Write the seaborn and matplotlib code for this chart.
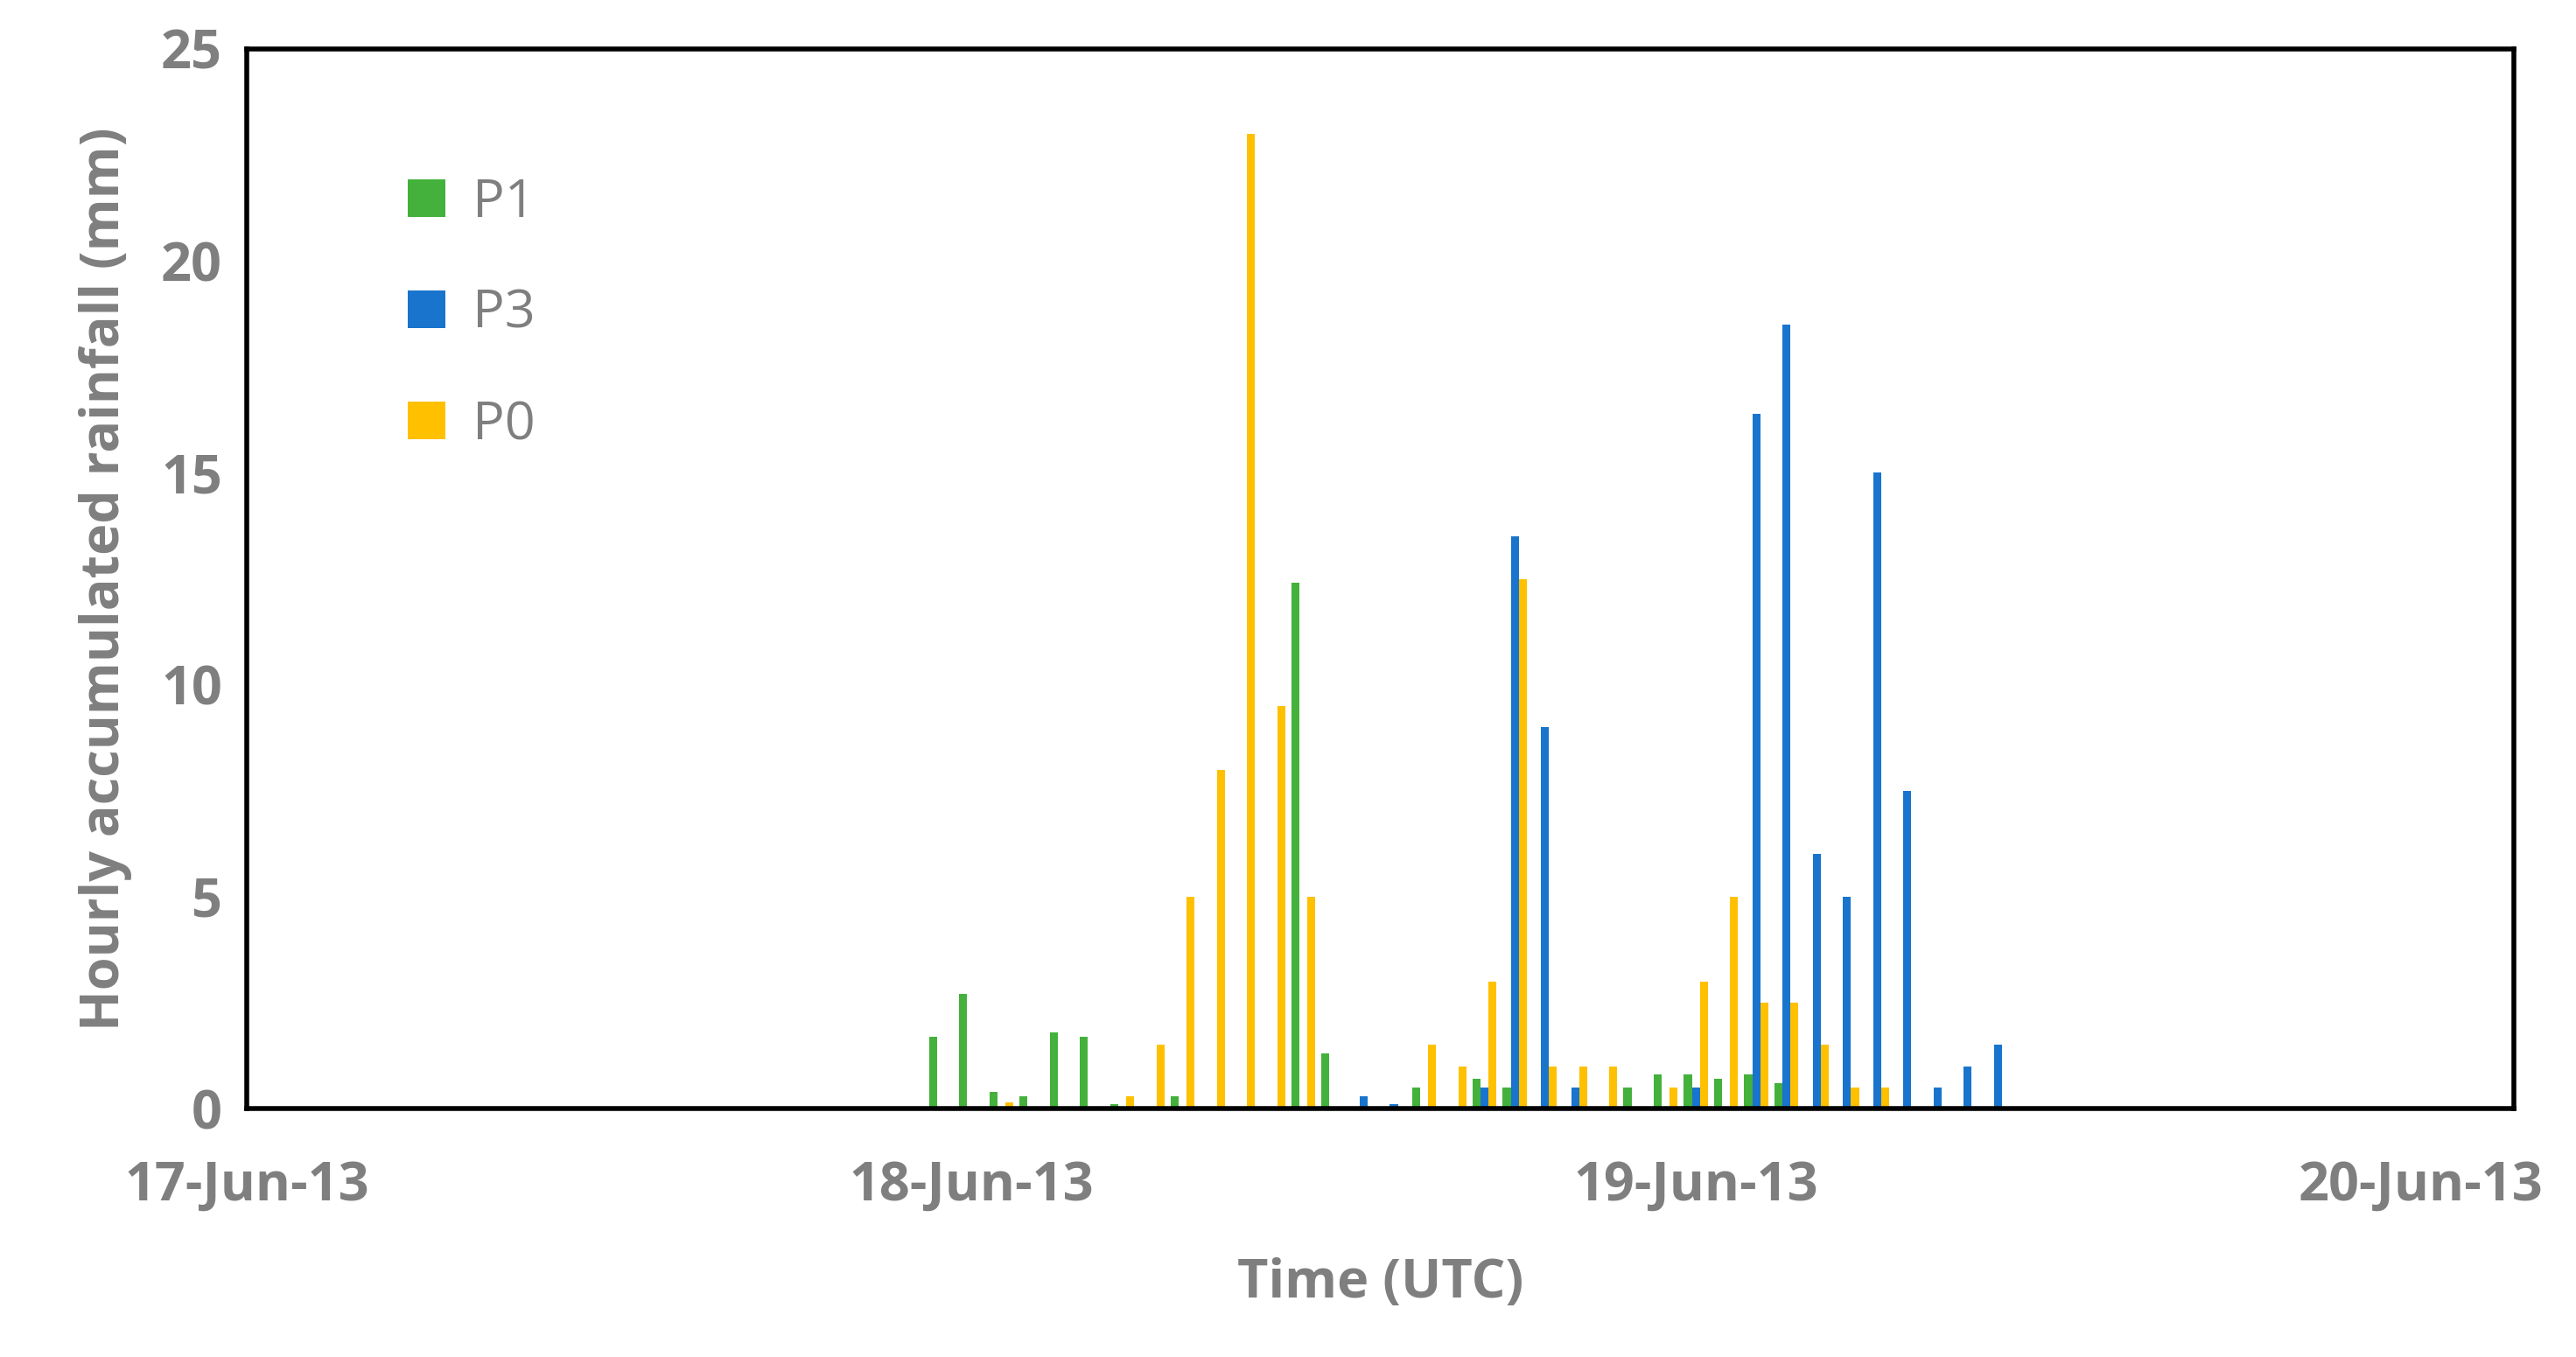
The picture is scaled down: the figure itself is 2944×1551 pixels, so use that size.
import matplotlib
matplotlib.use("Agg")
import matplotlib.pyplot as plt
import seaborn as sns
import pandas as pd

# hours relative to 17-Jun-13 00:00 UTC
HOURS = list(range(23, 60))
P1 = [1.7, 2.7, 0.4, 0.3, 1.8, 1.7, 0.1, 0, 0.3, 0, 0, 0, 12.4, 1.3, 0.05, 0, 0.5, 0,
      0.7, 0.5, 0.05, 0, 0, 0.5, 0.8, 0.8, 0.7, 0.8, 0.6, 0.05, 0, 0, 0, 0, 0, 0, 0]
P3 = [0, 0, 0, 0, 0, 0, 0, 0, 0, 0, 0, 0, 0, 0, 0.3, 0.1, 0.05, 0,
      0.5, 13.5, 9, 0.5, 0, 0, 0, 0.5, 0.05, 16.4, 18.5, 6, 5, 15, 7.5, 0, 0.5, 1, 1.5][:0] or \
     [0, 0, 0, 0, 0, 0, 0, 0, 0, 0, 0, 0, 0, 0, 0.3, 0.1, 0.05, 0,
      0.5, 13.5, 9, 0.5, 0, 0, 0, 0.5, 0.05, 16.4, 18.5, 6, 5, 15, 7.5, 0.5, 1, 1.5, 0]
P0 = [0, 0, 0.15, 0, 0, 0, 0.3, 1.5, 5, 8, 23, 9.5, 5, 0, 0, 0, 1.5, 1,
      3, 12.5, 1, 1, 1, 0, 0.5, 3, 5, 2.5, 2.5, 1.5, 0.5, 0.5, 0, 0, 0, 0, 0]
SERIES = ["P1", "P3", "P0"]
COLORS = ["#43B13B", "#1874CD", "#FFC000"]
DATE_TICKS = [0, 24, 48, 72]
DATE_LABELS = ["17-Jun-13", "18-Jun-13", "19-Jun-13", "20-Jun-13"]

df = pd.concat([pd.DataFrame({"hour": HOURS, "rain": v, "station": s})
                for s, v in zip(SERIES, [P1, P3, P0])])

sns.set_style("white")
plt.rcParams["font.family"] = ["Open Sans", "DejaVu Sans"]
gray = "#7F7F7F"

fig = plt.figure(figsize=(14.72, 7.755), dpi=200)
ax = fig.add_axes([0.0957, 0.183, 0.8803, 0.781])
sns.barplot(data=df, x="hour", y="rain", hue="station", hue_order=SERIES,
            palette=COLORS, native_scale=True, dodge=True, width=0.8,
            saturation=1, linewidth=0, errorbar=None, ax=ax)

ax.set_xlim(0, 75.1)
ax.set_ylim(0, 25)
ax.set_yticks([0, 5, 10, 15, 20, 25])
ax.set_xticks(DATE_TICKS)
ax.set_xticklabels(DATE_LABELS, fontweight="bold")
ax.set_yticklabels([str(v) for v in [0, 5, 10, 15, 20, 25]], fontweight="bold")
for s in ax.spines.values():
    s.set_color("black")
    s.set_linewidth(2)
ax.tick_params(axis="x", direction="out", length=9, width=2, color="black",
               labelsize=22, labelcolor=gray, pad=12)
ax.tick_params(axis="y", length=0, labelsize=22, labelcolor=gray, pad=10)

ax.set_xlabel("Time (UTC)", fontsize=22, fontweight="bold", color=gray, labelpad=18)
ax.set_ylabel("Hourly accumulated rainfall (mm)", fontsize=22, fontweight="bold",
              color=gray, labelpad=12)

leg = ax.legend(loc="upper left", bbox_to_anchor=(0.05, 0.925), frameon=False,
                fontsize=22, handlelength=0.7, handleheight=0.7, labelspacing=1.1,
                handletextpad=0.5)
for t in leg.get_texts():
    t.set_color(gray)

fig.savefig("out.png", dpi=200)
